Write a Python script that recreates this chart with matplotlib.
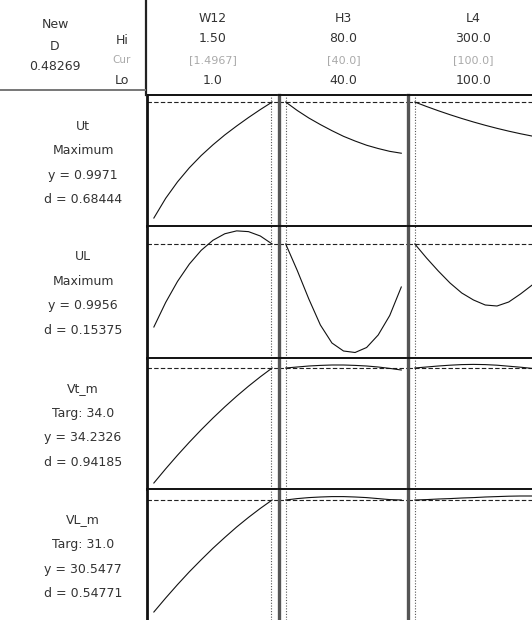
import matplotlib
matplotlib.use("Agg")
import matplotlib.pyplot as plt
from matplotlib.lines import Line2D

plt.rcParams['font.family'] = ['DejaVu Sans']

# factor settings
factors = ['W12', 'H3', 'L4']
hi_txt = ['1.50', '80.0', '300.0']
cur_txt = ['[1.4967]', '[40.0]', '[100.0]']
lo_txt = ['1.0', '40.0', '100.0']
lo_vals = [1.0, 40.0, 100.0]
hi_vals = [1.5, 80.0, 300.0]
cur_vals = [1.4967, 40.0, 100.0]

# responses
responses = ['Ut', 'UL', 'Vt_m', 'VL_m']
goals = ['Maximum', 'Maximum', 'Targ: 34.0', 'Targ: 31.0']
y_pred = [0.9971, 0.9956, 34.2326, 30.5477]
d_vals = ['0.68444', '0.15375', '0.94185', '0.54771']
y_txt = ['0.9971', '0.9956', '34.2326', '30.5477']
ylims = [(0.733, 1.012), (0.5396, 1.0676), (28.18, 34.73), (24.55, 31.10)]

# factor grids
w12_x = [1.0, 1.05, 1.1, 1.15, 1.2, 1.25, 1.3, 1.35, 1.4, 1.45, 1.5]
h3_x = [40, 44, 48, 52, 56, 60, 64, 68, 72, 76, 80]
l4_x = [100, 120, 140, 160, 180, 200, 220, 240, 260, 280, 300]

# predicted response curves [row][col]
ut_w12 = [0.750, 0.792, 0.827, 0.857, 0.883, 0.906, 0.927, 0.946, 0.964, 0.981, 0.997]
ut_h3 = [0.997, 0.979, 0.963, 0.949, 0.936, 0.924, 0.914, 0.905, 0.898, 0.892, 0.888]
ut_l4 = [0.997, 0.9875, 0.9785, 0.970, 0.962, 0.9545, 0.9475, 0.941, 0.935, 0.9295, 0.9245]
ul_w12 = [0.6636, 0.7620, 0.8459, 0.9153, 0.9702, 1.0106, 1.0366, 1.0481, 1.0451, 1.0276, 0.9956]
ul_h3 = [0.9956, 0.8896, 0.7756, 0.6716, 0.5996, 0.5676, 0.5616, 0.5816, 0.6316, 0.7096, 0.8236]
ul_l4 = [0.9956, 0.9396, 0.8876, 0.8396, 0.7996, 0.7716, 0.7516, 0.7476, 0.7636, 0.7956, 0.8316]
vt_w12 = [28.48, 29.19, 29.87, 30.52, 31.14, 31.73, 32.29, 32.82, 33.32, 33.79, 34.23]
vt_h3 = [34.23, 34.28, 34.33, 34.36, 34.38, 34.38, 34.36, 34.33, 34.28, 34.21, 34.13]
vt_l4 = [34.23, 34.28, 34.33, 34.37, 34.40, 34.41, 34.40, 34.37, 34.32, 34.27, 34.21]
vl_w12 = [24.95, 25.65, 26.32, 26.96, 27.56, 28.14, 28.68, 29.20, 29.68, 30.13, 30.55]
vl_h3 = [30.55, 30.62, 30.67, 30.70, 30.72, 30.72, 30.70, 30.67, 30.62, 30.57, 30.55]
vl_l4 = [30.55, 30.57, 30.60, 30.62, 30.65, 30.67, 30.70, 30.72, 30.74, 30.75, 30.75]

xs = [w12_x, h3_x, l4_x]
curves = [[ut_w12, ut_h3, ut_l4],
          [ul_w12, ul_h3, ul_l4],
          [vt_w12, vt_h3, vt_l4],
          [vl_w12, vl_h3, vl_l4]]

W, H = 532, 620
fig = plt.figure(figsize=(W / 100, H / 100), dpi=100)
fig.patch.set_facecolor('white')

col_edges = [147, 279, 408, 539]
row_edges = [95, 226, 358, 489, 620]


def fx(px):
    return px / W


def fy(py):
    return 1 - py / H


txt = '#333333'
fs = 9

for r in range(4):
    for c in range(3):
        x0, x1 = col_edges[c], col_edges[c + 1]
        y0, y1 = row_edges[r], row_edges[r + 1]
        ax = fig.add_axes([fx(x0), fy(y1), (x1 - x0) / W, (y1 - y0) / H])
        rng = hi_vals[c] - lo_vals[c]
        ax.set_xlim(lo_vals[c] - 0.058 * rng, hi_vals[c] + 0.058 * rng)
        ax.set_ylim(*ylims[r])
        ax.set_xticks([])
        ax.set_yticks([])
        for s in ['right', 'bottom']:
            ax.spines[s].set_visible(False)
        ax.spines['top'].set_linewidth(1.4)
        ax.spines['top'].set_color('#111111')
        if c == 0:
            ax.spines['left'].set_linewidth(2.0)
            ax.spines['left'].set_color('#111111')
        else:
            ax.spines['left'].set_linewidth(2.4)
            ax.spines['left'].set_color('#555555')
        ax.axhline(y_pred[r], color='#222222', lw=0.8, ls=(0, (4, 2)))
        ax.axvline(cur_vals[c], color='#555555', lw=0.8, ls=(0, (1, 1.5)))
        ax.plot(xs[c], curves[r][c], color='#111111', lw=0.8)

# header
fig.text(fx(55), fy(24), 'New', ha='center', va='center', fontsize=fs, color=txt)
fig.text(fx(55), fy(46), 'D', ha='center', va='center', fontsize=fs, color=txt)
fig.text(fx(55), fy(67), '0.48269', ha='center', va='center', fontsize=fs, color=txt)
fig.text(fx(122), fy(41), 'Hi', ha='center', va='center', fontsize=fs, color=txt)
fig.text(fx(122), fy(60), 'Cur', ha='center', va='center', fontsize=7.5, color='#aaaaaa')
fig.text(fx(122), fy(81), 'Lo', ha='center', va='center', fontsize=fs, color=txt)

for c in range(3):
    cx = (col_edges[c] + col_edges[c + 1]) / 2
    fig.text(fx(cx), fy(18), factors[c], ha='center', va='center', fontsize=fs, color=txt)
    fig.text(fx(cx), fy(39), hi_txt[c], ha='center', va='center', fontsize=fs, color=txt)
    fig.text(fx(cx), fy(60), cur_txt[c], ha='center', va='center', fontsize=8, color='#aaaaaa')
    fig.text(fx(cx), fy(81), lo_txt[c], ha='center', va='center', fontsize=fs, color=txt)

# row labels
for r in range(4):
    top = row_edges[r]
    lines = [responses[r], goals[r], 'y = ' + y_txt[r], 'd = ' + d_vals[r]]
    for k, s in enumerate(lines):
        fig.text(fx(83), fy(top + 31 + 24.5 * k), s, ha='center', va='center',
                 fontsize=fs, color=txt)

# header frame lines
fig.add_artist(Line2D([fx(145.5), fx(145.5)], [fy(0), fy(95)], color='#222222', lw=1.6))
fig.add_artist(Line2D([fx(0), fx(145)], [fy(90), fy(90)], color='#777777', lw=1.4))

fig.savefig('out.png', dpi=100)
